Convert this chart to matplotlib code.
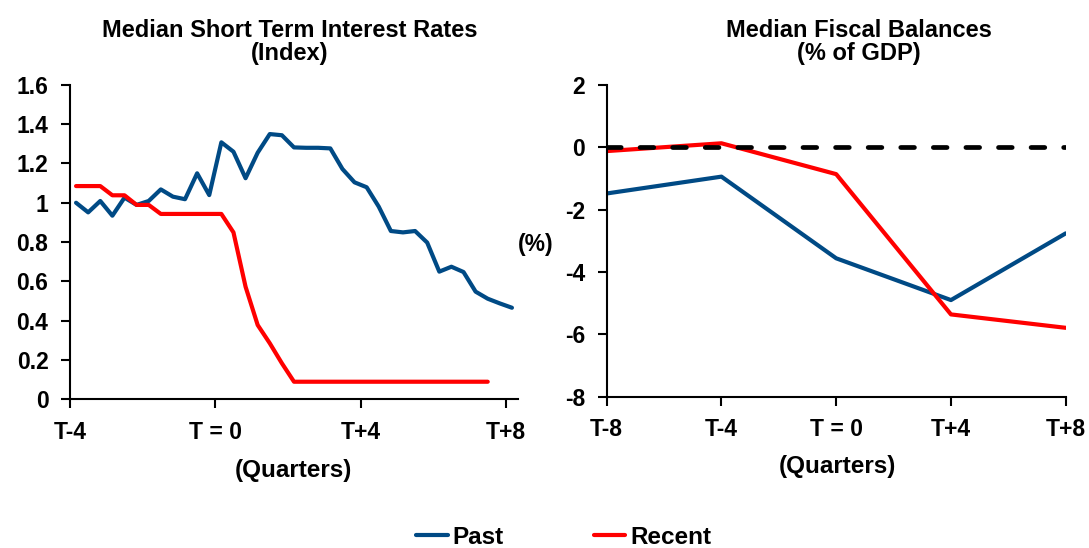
import numpy as np
import matplotlib
matplotlib.use("Agg")
import matplotlib.pyplot as plt
from matplotlib.ticker import FormatStrFormatter

plt.rcParams['font.family'] = ['Liberation Sans', 'DejaVu Sans']
plt.rcParams['font.weight'] = 'bold'
plt.rcParams['axes.unicode_minus'] = False

BLUE = '#004a85'
RED = '#ff0000'

# left panel: monthly index, T-4 .. T+8
rates_past = [1.00, 0.951, 1.009, 0.934, 1.026, 0.989, 1.009, 1.068, 1.031, 1.018,
              1.150, 1.039, 1.308, 1.260, 1.125, 1.255, 1.350, 1.344, 1.282, 1.280,
              1.280, 1.277, 1.172, 1.104, 1.079, 0.980, 0.856, 0.849, 0.856, 0.797,
              0.649, 0.674, 0.647, 0.547, 0.511, 0.487, 0.465]
rates_recent = [1.085, 1.085, 1.085, 1.038, 1.038, 0.989, 0.989, 0.943, 0.943, 0.943,
                0.943, 0.943, 0.943, 0.849, 0.572, 0.377, 0.284, 0.182, 0.088, 0.088,
                0.088, 0.088, 0.088, 0.088, 0.088, 0.088, 0.088, 0.088, 0.088, 0.088,
                0.088, 0.088, 0.088, 0.088, 0.088]
rates_ticklabels = ['T-4', 'T = 0', 'T+4', 'T+8']

# right panel: fiscal balance, % of GDP
fiscal_labels = ['T-8', 'T-4', 'T = 0', 'T+4', 'T+8']
fiscal_past = [-1.48, -0.94, -3.56, -4.90, -2.76]
fiscal_recent = [-0.12, 0.13, -0.86, -5.36, -5.79]

W, H = 1089, 548
fig = plt.figure(figsize=(W / 100, H / 100), dpi=100)

def px_axes(x0, y0, x1, y1):
    return fig.add_axes([x0 / W, 1 - y1 / H, (x1 - x0) / W, (y1 - y0) / H])

def style(ax):
    for s in ('top', 'right'):
        ax.spines[s].set_visible(False)
    for s in ('left', 'bottom'):
        ax.spines[s].set_linewidth(1.5)
    ax.tick_params(axis='both', direction='out', length=6.5, width=1.5,
                   labelsize=16.5, pad=9)
    for lab in ax.get_xticklabels() + ax.get_yticklabels():
        lab.set_fontweight('bold')

lw = 3
ax1 = px_axes(70, 85, 518, 399)
x_past = np.arange(len(rates_past))
x_recent = np.arange(len(rates_recent))
ax1.plot(x_past, rates_past, color=BLUE, lw=lw, solid_capstyle='round',
         solid_joinstyle='round', label='Past')
ax1.plot(x_recent, rates_recent, color=RED, lw=lw, solid_capstyle='round',
         solid_joinstyle='round', label='Recent')
ax1.set_xlim(-0.5, len(rates_past) - 0.5)
ax1.set_xticks(np.arange(len(rates_ticklabels)) * 12 - 0.5)
ax1.set_xticklabels(rates_ticklabels)
ax1.set_ylim(0, 1.6)
ax1.set_yticks(np.arange(0, 1.61, 0.2))
ax1.yaxis.set_major_formatter(FormatStrFormatter('%g'))
style(ax1)

ax2 = px_axes(606.7, 85, 1065.7, 396.7)
xf = np.arange(len(fiscal_labels))
ax2.plot(xf, fiscal_past, color=BLUE, lw=lw, solid_capstyle='round',
         solid_joinstyle='round')
ax2.plot(xf, fiscal_recent, color=RED, lw=lw, solid_capstyle='round',
         solid_joinstyle='round')
ax2.axhline(0, color='black', lw=3.4, dashes=(2.9, 4.0), dash_capstyle='round',
            zorder=5)
ax2.set_xlim(0, len(fiscal_labels) - 1)
ax2.set_xticks(xf)
ax2.set_xticklabels(fiscal_labels)
ax2.set_ylim(-8, 2)
ax2.set_yticks(np.arange(-8, 2.1, 2))
ax2.yaxis.set_major_formatter(FormatStrFormatter('%g'))
style(ax2)

tkw = dict(ha='center', va='center', fontsize=17, fontweight='bold',
           linespacing=0.98)
fig.text(290 / W, 1 - 42 / H, 'Median Short Term Interest Rates\n(Index)', **tkw)
fig.text(859 / W, 1 - 42 / H, 'Median Fiscal Balances\n(% of GDP)', **tkw)

fig.text(293 / W, 1 - 470 / H, '(Quarters)', ha='center', va='center',
         fontsize=17.5, fontweight='bold')
fig.text(837 / W, 1 - 467 / H, '(Quarters)', ha='center', va='center',
         fontsize=17.5, fontweight='bold')
fig.text(536 / W, 1 - 245 / H, '(%)', ha='center', va='center',
         fontsize=16.5, fontweight='bold')

fig.legend(loc='center', bbox_to_anchor=(563.5 / W, 1 - 537 / H), ncol=2,
           frameon=False, prop={'size': 17.5, 'weight': 'bold'},
           handlelength=1.3, handletextpad=0.2, columnspacing=3.7)

fig.savefig('out.png', dpi=100)
